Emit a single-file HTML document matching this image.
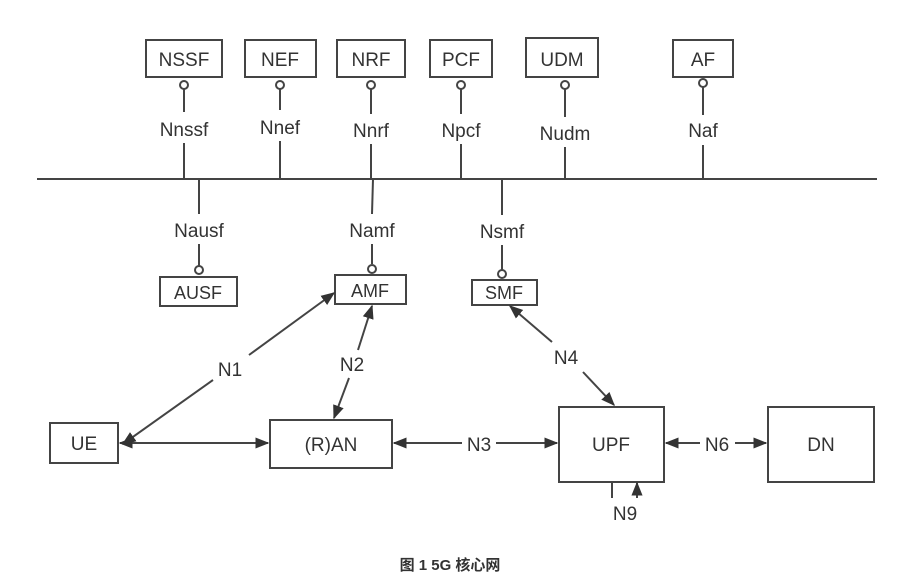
<!DOCTYPE html>
<html><head><meta charset="utf-8"><style>
body{margin:0;background:#fff;}
svg{display:block}
text{font-family:"Liberation Sans","Noto Sans CJK SC",sans-serif;fill:#333;}
</style></head><body>
<svg width="900" height="579" viewBox="0 0 900 579">
<defs>
<marker id="a" viewBox="0 0 10 10" refX="9" refY="5" markerWidth="7" markerHeight="7" orient="auto-start-reverse"><path d="M0,1 L10,5 L0,9 z" fill="#333"/></marker>
</defs>
<g stroke="#444" stroke-width="2" fill="#fff">
<rect x="146" y="40" width="76" height="37"/>
<rect x="245" y="40" width="71" height="37"/>
<rect x="337" y="40" width="68" height="37"/>
<rect x="430" y="40" width="62" height="37"/>
<rect x="526" y="38" width="72" height="39"/>
<rect x="673" y="40" width="60" height="37"/>
<rect x="160" y="277" width="77" height="29"/>
<rect x="335" y="275" width="71" height="29"/>
<rect x="472" y="280" width="65" height="25"/>
<rect x="50" y="423" width="68" height="40"/>
<rect x="270" y="420" width="122" height="48"/>
<rect x="559" y="407" width="105" height="75"/>
<rect x="768" y="407" width="106" height="75"/>
</g>
<g stroke="#444" stroke-width="2" fill="none">
<line x1="37" y1="179" x2="877" y2="179"/>
<circle cx="184" cy="85" r="4" fill="#fff"/><line x1="184" y1="89" x2="184" y2="112"/><line x1="184" y1="143" x2="184" y2="179"/>
<circle cx="280" cy="85" r="4" fill="#fff"/><line x1="280" y1="89" x2="280" y2="110"/><line x1="280" y1="141" x2="280" y2="179"/>
<circle cx="371" cy="85" r="4" fill="#fff"/><line x1="371" y1="89" x2="371" y2="114"/><line x1="371" y1="144" x2="371" y2="179"/>
<circle cx="461" cy="85" r="4" fill="#fff"/><line x1="461" y1="89" x2="461" y2="114"/><line x1="461" y1="144" x2="461" y2="179"/>
<circle cx="565" cy="85" r="4" fill="#fff"/><line x1="565" y1="89" x2="565" y2="117"/><line x1="565" y1="147" x2="565" y2="179"/>
<circle cx="703" cy="83" r="4" fill="#fff"/><line x1="703" y1="87" x2="703" y2="115"/><line x1="703" y1="145" x2="703" y2="179"/>
<line x1="199" y1="179" x2="199" y2="214"/><line x1="199" y1="244" x2="199" y2="266"/><circle cx="199" cy="270" r="4" fill="#fff"/>
<line x1="373" y1="179" x2="372" y2="214"/><line x1="372" y1="244" x2="372" y2="264"/><circle cx="372" cy="269" r="4" fill="#fff"/>
<line x1="502" y1="179" x2="502" y2="215"/><line x1="502" y1="245" x2="502" y2="270"/><circle cx="502" cy="274" r="4" fill="#fff"/>
<line x1="123" y1="444" x2="213" y2="380" marker-start="url(#a)"/>
<line x1="249" y1="355" x2="334" y2="293" marker-end="url(#a)"/>
<line x1="372" y1="306" x2="358" y2="350" marker-start="url(#a)"/>
<line x1="349" y1="378" x2="334" y2="418" marker-end="url(#a)"/>
<line x1="510" y1="306" x2="552" y2="342" marker-start="url(#a)"/>
<line x1="583" y1="372" x2="614" y2="405" marker-end="url(#a)"/>
<line x1="120" y1="443" x2="268" y2="443" marker-start="url(#a)" marker-end="url(#a)"/>
<line x1="394" y1="443" x2="462" y2="443" marker-start="url(#a)"/>
<line x1="496" y1="443" x2="557" y2="443" marker-end="url(#a)"/>
<line x1="666" y1="443" x2="700" y2="443" marker-start="url(#a)"/>
<line x1="735" y1="443" x2="766" y2="443" marker-end="url(#a)"/>
<line x1="612" y1="483" x2="612" y2="498"/>
<line x1="637" y1="498" x2="637" y2="483" marker-end="url(#a)"/>
</g>
<g font-size="19" text-anchor="middle">
<text x="184" y="66">NSSF</text><text x="280" y="66">NEF</text><text x="371" y="66">NRF</text><text x="461" y="66">PCF</text><text x="562" y="66">UDM</text><text x="703" y="66">AF</text>
<text x="184" y="136">Nnssf</text><text x="280" y="134">Nnef</text><text x="371" y="137">Nnrf</text><text x="461" y="137">Npcf</text><text x="565" y="140">Nudm</text><text x="703" y="137">Naf</text>
<text x="199" y="237">Nausf</text><text x="372" y="237">Namf</text><text x="502" y="238">Nsmf</text>
<text x="198" y="299" font-size="18">AUSF</text><text x="370" y="297" font-size="18">AMF</text><text x="504" y="299" font-size="18">SMF</text>
<text x="230" y="376">N1</text><text x="352" y="371">N2</text><text x="566" y="364">N4</text>
<text x="84" y="450">UE</text><text x="331" y="451">(R)AN</text><text x="611" y="451">UPF</text><text x="821" y="451">DN</text>
<text x="479" y="451">N3</text><text x="717" y="451">N6</text><text x="625" y="520">N9</text>
</g>
<text x="450" y="570" font-size="15" text-anchor="middle" font-weight="bold" fill="#222">图 1   5G 核心网</text>
</svg>
</body></html>
